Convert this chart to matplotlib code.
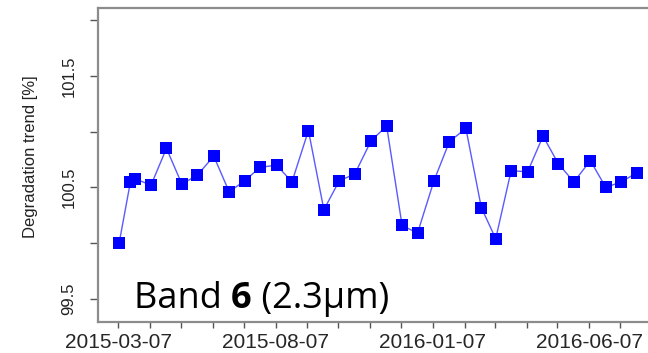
import matplotlib
matplotlib.use("Agg")
import matplotlib.pyplot as plt
import matplotlib.dates as mdates
import pandas as pd

# semi-monthly acquisitions and their degradation trend values
dates = ["2015-03-08", "2015-03-19", "2015-03-23", "2015-04-08", "2015-04-23",
         "2015-05-08", "2015-05-23", "2015-06-08", "2015-06-23", "2015-07-08",
         "2015-07-23", "2015-08-08", "2015-08-23", "2015-09-08", "2015-09-23",
         "2015-10-08", "2015-10-23", "2015-11-08", "2015-11-23", "2015-12-08",
         "2015-12-23", "2016-01-08", "2016-01-23", "2016-02-08", "2016-02-23",
         "2016-03-08", "2016-03-23", "2016-04-08", "2016-04-23", "2016-05-08",
         "2016-05-23", "2016-06-08", "2016-06-23", "2016-07-08", "2016-07-23"]
trend = [100.00, 100.55, 100.58, 100.52, 100.85, 100.53, 100.61, 100.78, 100.46,
         100.56, 100.68, 100.70, 100.55, 101.01, 100.30, 100.56, 100.62, 100.92,
         101.05, 100.16, 100.09, 100.56, 100.91, 101.03, 100.32, 100.04, 100.65,
         100.64, 100.96, 100.71, 100.55, 100.74, 100.50, 100.55, 100.63]

x_labels = ["2015-03-07", "2015-08-07", "2016-01-07", "2016-06-07"]
y_ticks = [99.5, 100.0, 100.5, 101.0, 101.5, 102.0]
y_labels = ["99.5", "", "100.5", "", "101.5", ""]

W, H = 648, 353
fig = plt.figure(figsize=(W / 100, H / 100), dpi=100)
ax = fig.add_axes([97.5 / W, (H - 322) / H, 1 - 97.5 / W, (322 - 8) / H])

x = pd.to_datetime(dates)
ax.plot(x, trend, color="#5a5aff", lw=1.0, zorder=2)
ax.plot(x, trend, ls="none", marker="s", ms=9.2, mew=0, color="#0000ff", zorder=3)

ax.set_xlim(pd.Timestamp("2015-02-15"), pd.Timestamp("2016-08-03"))
ax.set_ylim(99.294, 102.108)

# monthly ticks, only every fifth one labelled
ax.xaxis.set_major_locator(mdates.MonthLocator(bymonthday=7))

def date_label(v, pos):
    s = mdates.num2date(v).strftime("%Y-%m-%d")
    return s if s in x_labels else ""

ax.xaxis.set_major_formatter(plt.FuncFormatter(date_label))
ax.set_yticks(y_ticks)
ax.set_yticklabels(y_labels, rotation=90, va="center",
                   fontfamily="Liberation Sans", fontsize=12, color="#222222")
for lab in ax.get_xticklabels():
    lab.set_fontfamily("Liberation Sans")
    lab.set_fontsize(15)
    lab.set_color("#262626")

ax.tick_params(axis="x", length=4.3, width=1.0, color="#555555", pad=3.5)
ax.tick_params(axis="y", length=6.1, width=1.0, color="#555555", pad=9)

for side in ["left", "bottom", "top"]:
    ax.spines[side].set_color("#8c8c8c")
    ax.spines[side].set_linewidth(1.6)
ax.spines["right"].set_visible(False)

fig.text(31 / W, 1 - 157 / H, "Degradation trend [%]", rotation=90,
         ha="center", va="center", fontfamily="Liberation Sans", fontsize=12,
         color="#222222")

# band caption with a bold band number
t1 = fig.text(134 / W, 1 - 307.7 / H, "Band ", fontfamily="Open Sans",
              fontsize=26, color="black", va="baseline")
t2 = ax.annotate("6", xy=(1, 0), xycoords=t1, va="bottom", ha="left",
                 fontfamily="Open Sans", fontweight="bold", fontsize=26,
                 color="black")
t3 = ax.annotate(" (2.3µm)", xy=(1, 0), xycoords=t2, va="bottom", ha="left",
                 fontfamily="Open Sans", fontsize=26, color="black")

fig.savefig("out.png", dpi=100, facecolor="white")
